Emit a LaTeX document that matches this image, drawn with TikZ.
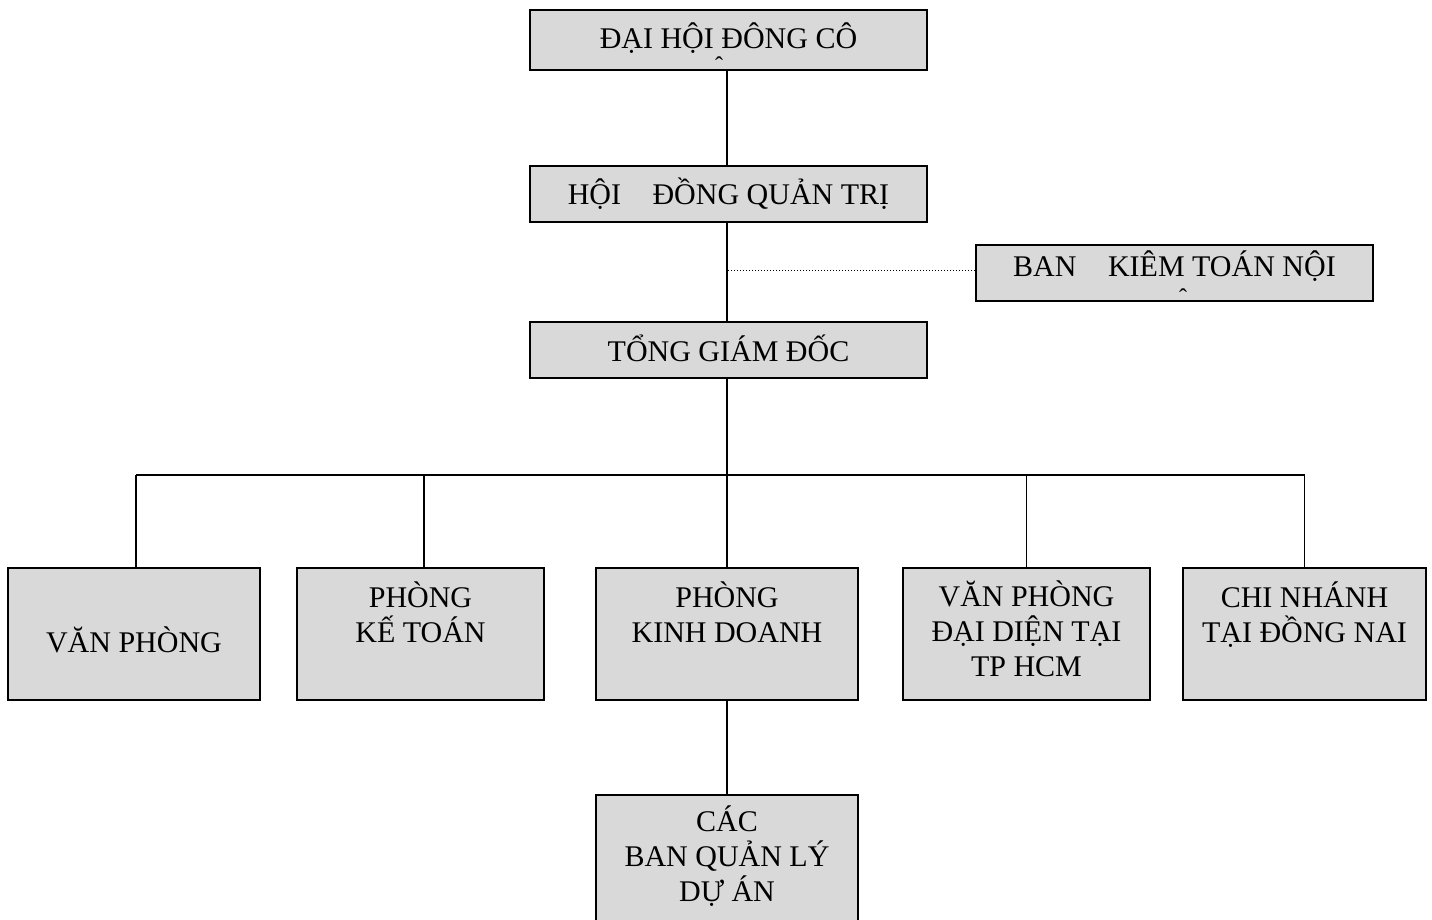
\documentclass[tikz,border=0pt]{standalone}
\usepackage{fontspec}
\setmainfont{Liberation Serif}
\definecolor{boxgray}{RGB}{217,217,217}
\begin{document}
\begin{tikzpicture}[x=1pt,y=-1pt,
  box/.style={draw=black, line width=1.9pt, fill=boxgray, inner sep=0pt},
  topbox/.style={box, minimum width=397pt, minimum height=56pt},
  lowbox/.style={box, minimum height=132pt},
  lbl/.style={font=\fontsize{30}{35}\selectfont, align=center, anchor=base, inner sep=0pt},
  caret/.style={font=\fontsize{24}{24}\selectfont, anchor=base, inner sep=0pt},
  conn/.style={line width=1.9pt},
  dotconn/.style={line width=1pt, dotted}]
\useasboundingbox (0,0) rectangle (1432,919);
\clip (0,0) rectangle (1432,919);

% boxes
\node[topbox, minimum height=60pt] (dh) at (728.5,40) {};
\node[topbox] (hd) at (728.5,194) {};
\node[topbox] (bk) at (1174.5,273) {};
\node[topbox] (tg) at (728.5,350) {};
\node[lowbox, minimum width=252pt] (vp) at (134,634) {};
\node[lowbox, minimum width=247pt] (kt) at (420.5,634) {};
\node[lowbox, minimum width=262pt] (kd) at (727,634) {};
\node[lowbox, minimum width=247pt] (dd) at (1026.5,634) {};
\node[lowbox, minimum width=243pt] (cn) at (1304.5,634) {};
\node[box, minimum width=262pt, minimum height=165pt] (ql) at (727,877.5) {};

% connectors
\coordinate (vx) at (727,0);
\coordinate (bus) at (0,475);
\coordinate (vpn) at ([xshift=2pt]vp.north);
\coordinate (ktn) at ([xshift=3.5pt]kt.north);
\coordinate (bkw) at ([yshift=3pt]bk.west);
\draw[conn] (dh.south -| vx) -- (hd.north -| vx);
\draw[conn] (hd.south -| vx) -- (tg.north -| vx);
\draw[dotconn] (bkw) -- (bkw -| vx);
\draw[conn] (tg.south -| vx) -- (bus -| vx);
\draw[conn] (bus -| vpn) -- (bus -| cn.north);
\draw[conn] (bus -| vpn) -- (vpn);
\draw[conn] (bus -| ktn) -- (ktn);
\draw[conn] (bus -| kd.north) -- (kd.north);
\draw[conn] (bus -| dd.north) -- (dd.north);
\draw[conn] (bus -| cn.north) -- (cn.north);
\draw[conn] (kd.south) -- (ql.north);

% texts (anchor = baseline of the last line)
\node[lbl] (dht) at (728.5,48) {ĐẠI HỘI ĐÔNG CÔ};
\node[caret] (dhc) at (719,73) {ˆ};
\node[lbl] (hdt) at (728.5,204) {HỘI\hspace{1.05em}ĐỒNG QUẢN TRỊ};
\node[lbl] (bkt) at (1174.5,276) {BAN\hspace{1.05em}KIÊM TOÁN NỘI};
\node[caret] (bkc) at (1183,305) {ˆ};
\node[lbl] (tgt) at (728.5,361) {TỔNG GIÁM ĐỐC};
\node[lbl] (vpt) at (134,652) {VĂN PHÒNG};
\node[lbl] (ktt) at (420.5,642) {PHÒNG\\KẾ TOÁN};
\node[lbl] (kdt) at (727,642) {PHÒNG\\KINH DOANH};
\node[lbl] (ddt) at (1026.5,676) {VĂN PHÒNG\\ĐẠI DIỆN TẠI\\TP HCM};
\node[lbl] (cnt) at (1304.5,642) {CHI NHÁNH\\TẠI ĐỒNG NAI};
\node[lbl] (qlt) at (727,901) {CÁC\\BAN QUẢN LÝ\\DỰ ÁN};
\end{tikzpicture}
\end{document}
